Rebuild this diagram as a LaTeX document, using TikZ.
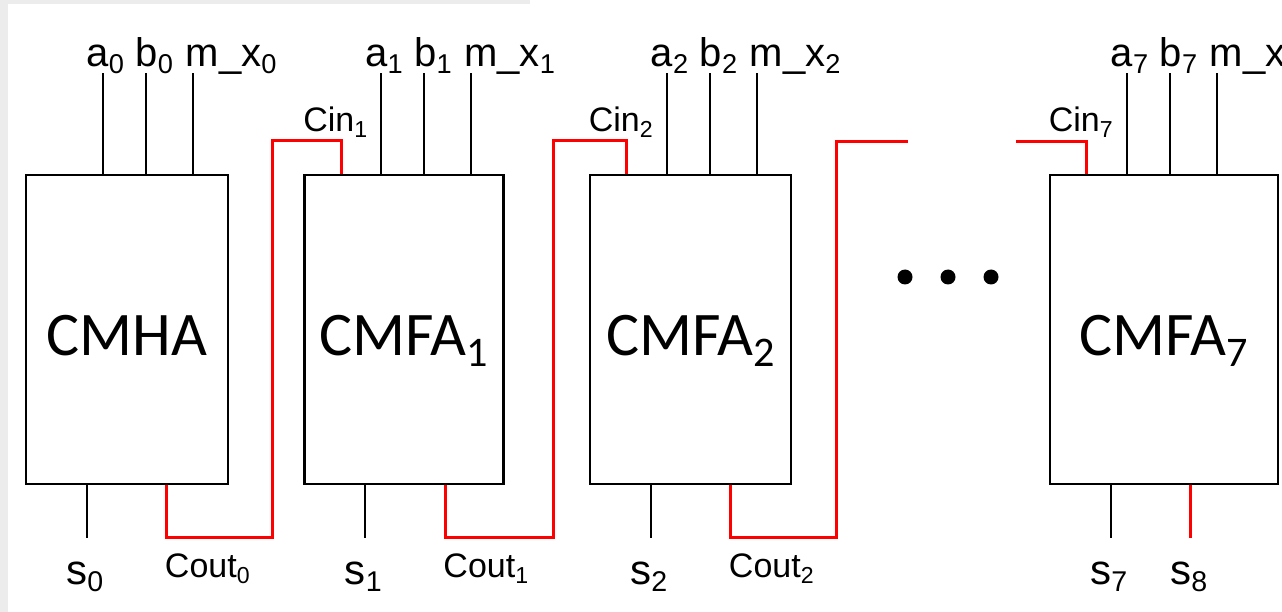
\documentclass[tikz,border=0pt]{standalone}
\usepackage{fontspec}
\setmainfont{Liberation Sans}
\newfontfamily\unitfont{Carlito}
\usetikzlibrary{calc}
\newcommand{\lowsub}[1]{\raisebox{-.18em}{\scalebox{.68}{#1}}}
\tikzset{unit/.style={draw,line width=2.5pt,minimum height=309pt,text height=51pt,text depth=0pt,font=\unitfont\fontsize{62}{62}\selectfont},
wire/.style={line width=2pt},carry/.style={red,line width=3pt},
inlbl/.style={anchor=base west,inner sep=0pt,font=\fontsize{40}{40}\selectfont},
slbl/.style={anchor=base,inner sep=0pt,font=\fontsize{42}{42}\selectfont},
clbl/.style={anchor=base west,inner sep=0pt,font=\fontsize{34}{34}\selectfont}}

\begin{document}
\begin{tikzpicture}[x=1pt,y=-1pt]
\useasboundingbox (0,0) rectangle (1282,612);
\fill[gray!15] (0,0) rectangle (8,612);
\fill[gray!15] (0,0) rectangle (530,4);
% adder cells
\node[unit,minimum width=202pt] (ha) at (127,329.5) {CMHA};
\node[unit,minimum width=199pt] (fa1) at (404,329.5) {CMFA\lowsub{1}};
\node[unit,minimum width=201pt] (fa2) at (690.5,329.5) {CMFA\lowsub{2}};
\node[unit,minimum width=228pt] (fa7) at (1164,329.5) {CMFA\lowsub{7}};
% operand inputs and sum outputs
\foreach \bx/\k in {ha/0,fa1/1,fa2/2,fa7/7}{
  \draw[wire] ($(\bx.north west)+(78,0)$) -- ++(0,-101) node[inlbl,xshift=-17pt,yshift=6pt]{a\lowsub{\k}};
  \draw[wire] ($(\bx.north west)+(121,0)$) -- ++(0,-101) node[inlbl,xshift=-11pt,yshift=6pt]{b\lowsub{\k}};
  \draw[wire] ($(\bx.north west)+(168,0)$) -- ++(0,-101) node[inlbl,xshift=-8pt,yshift=6pt]{m\_x\lowsub{\k}};
  \draw[wire] ($(\bx.south west)+(62,0)$) -- ++(0,53) coordinate (s\k);
  \node[slbl] (sl\k) at ($(s\k)+(-2,46)$) {s\lowsub{\k}};
}
\draw[carry] ($(fa7.south west)+(142,0)$) -- ++(0,53) coordinate (s8);
\node[slbl] (sl8) at ($(s8)+(-2,46)$) {s\lowsub{8}};
% carry chain
\coordinate (gapl) at (908,142);
\coordinate (gapr) at (1016,142);
\draw[carry] ($(ha.south west)+(142,0)$) |- (272,537) |- ($(fa1.north west)+(38,-33)$) -- ($(fa1.north west)+(38,0)$);
\draw[carry] ($(fa1.south west)+(142,0)$) |- (553,537) |- ($(fa2.north west)+(38,-33)$) -- ($(fa2.north west)+(38,0)$);
\draw[carry] ($(fa2.south west)+(142,0)$) |- (836,537) |- (gapl);
\draw[carry] (gapr) -| ($(fa7.north west)+(38,0)$);
\foreach \bx/\k in {fa1/1,fa2/2,fa7/7}
  \node[clbl,anchor=base] (cin\k) at ($(\bx.north west)+(32,-42)$) {Cin\lowsub{\k}};
\foreach \bx/\k in {ha/0,fa1/1,fa2/2}
  \node[clbl] (cout\k) at ($(\bx.south west)+(140,92)$) {Cout\lowsub{\k}};
% ellipsis
\foreach \x in {905,948,991}
  \fill (\x,277) circle (7.5pt);
\end{tikzpicture}
\end{document}
